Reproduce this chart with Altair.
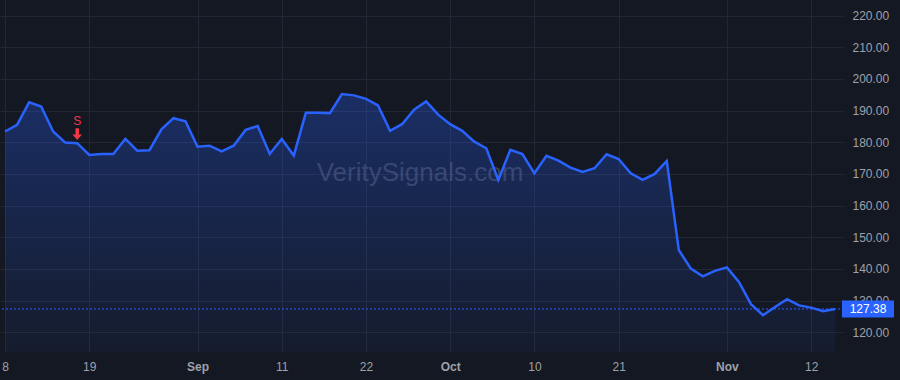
import altair as alt
import pandas as pd

# ---- data (daily closes, trading days) ----
DATES = [
    "2025-08-08", "2025-08-11", "2025-08-12", "2025-08-13", "2025-08-14", "2025-08-15",
    "2025-08-18", "2025-08-19", "2025-08-20", "2025-08-21", "2025-08-22", "2025-08-25",
    "2025-08-26", "2025-08-27", "2025-08-28", "2025-08-29", "2025-09-02", "2025-09-03",
    "2025-09-04", "2025-09-05", "2025-09-08", "2025-09-09", "2025-09-10", "2025-09-11",
    "2025-09-12", "2025-09-15", "2025-09-16", "2025-09-17", "2025-09-18", "2025-09-19",
    "2025-09-22", "2025-09-23", "2025-09-24", "2025-09-25", "2025-09-26", "2025-09-29",
    "2025-09-30", "2025-10-01", "2025-10-02", "2025-10-03", "2025-10-06", "2025-10-07",
    "2025-10-08", "2025-10-09", "2025-10-10", "2025-10-13", "2025-10-14", "2025-10-15",
    "2025-10-16", "2025-10-17", "2025-10-20", "2025-10-21", "2025-10-22", "2025-10-23",
    "2025-10-24", "2025-10-27", "2025-10-28", "2025-10-29", "2025-10-30", "2025-10-31",
    "2025-11-03", "2025-11-04", "2025-11-05", "2025-11-06", "2025-11-07", "2025-11-10",
    "2025-11-11", "2025-11-12", "2025-11-13", "2025-11-14",
]
CLOSE = [
    183.4, 185.5, 192.6, 191.3, 183.4, 179.9,
    179.7, 176.0, 176.3, 176.3, 181.1, 177.3,
    177.5, 184.1, 187.6, 186.6, 178.6, 178.9,
    177.1, 178.9, 183.9, 185.1, 176.3, 181.0,
    175.8, 189.3, 189.3, 189.2, 195.2, 194.8,
    193.7, 191.6, 183.6, 185.7, 190.3, 192.9,
    188.7, 185.7, 183.6, 180.2, 178.1, 168.1,
    177.6, 176.3, 170.2, 175.7, 174.2, 172.0,
    170.6, 171.8, 176.2, 174.7, 170.2, 168.1,
    170.0, 174.1, 146.0, 140.1, 137.7, 139.4,
    140.5, 135.9, 128.9, 125.4, 128.0, 130.5,
    128.5, 127.8, 126.7, 127.38,
]
TICK_INDEX = [0, 7, 16, 23, 30, 37, 44, 51, 60, 67]
TICK_LABELS = ["8", "19", "Sep", "11", "22", "Oct", "10", "21", "Nov", "12"]
MONTH_TICKS = [16, 37, 60]
Y_TICKS = [120, 130, 140, 150, 160, 170, 180, 190, 200, 210, 220]
SIGNAL_INDEX = [6]
SIGNAL_TEXT = ["S"]
LAST_PRICE = 127.38
WATERMARK = "VeritySignals.com"

# ---- styling ----
BG = "#141822"
GRID = "#232734"
BLUE = "#2962ff"
RED = "#f23645"
AXIS_TXT = "#9ea1aa"
FONT = "Liberation Sans"
X_DOMAIN = [-0.42, 69.4]
Y_DOMAIN = [113.8, 224.9]

df = pd.DataFrame({"i": list(range(len(CLOSE))), "date": DATES, "close": CLOSE})
sig_df = pd.DataFrame({"i": SIGNAL_INDEX, "close": [CLOSE[k] for k in SIGNAL_INDEX], "txt": SIGNAL_TEXT})
last_df = pd.DataFrame({"close": [LAST_PRICE]})
wm_df = pd.DataFrame({"t": [WATERMARK]})

label_expr = "[{}][indexof([{}], datum.value)]".format(
    ",".join("'" + s + "'" for s in TICK_LABELS), ",".join(str(v) for v in TICK_INDEX)
)
bold_test = " || ".join("datum.value == {}".format(v) for v in MONTH_TICKS)

xscale = alt.Scale(domain=X_DOMAIN, nice=False, zero=False)
yscale = alt.Scale(domain=Y_DOMAIN, nice=False, zero=False)

x_axis = alt.Axis(
    values=TICK_INDEX, labelExpr=label_expr, grid=True, gridColor=GRID, gridWidth=1,
    ticks=False, domain=False, title=None, labelColor=AXIS_TXT, labelFontSize=12,
    labelFont=FONT, labelPadding=9, labelFlush=False, labelOverlap=False, labelBound=False,
    labelFontWeight={"condition": {"test": bold_test, "value": "bold"}, "value": "normal"},
    zindex=0,
)
y_axis = alt.Axis(
    orient="right", values=Y_TICKS, format=".2f", grid=True, gridColor=GRID, gridWidth=1,
    ticks=True, tickColor=GRID, tickSize=4, domain=False, title=None, labelColor=AXIS_TXT,
    labelFontSize=12, labelFont=FONT, labelPadding=8, labelOverlap=False, zindex=0,
)

X = alt.X("i:Q", scale=xscale, axis=x_axis, title=None)
Y = alt.Y("close:Q", scale=yscale, axis=y_axis, title=None)

gradient = alt.Gradient(
    gradient="linear",
    stops=[
        alt.GradientStop(color="rgba(41,98,255,0.05)", offset=0),
        alt.GradientStop(color="rgba(41,98,255,0.30)", offset=1),
    ],
    x1=1, x2=1, y1=1, y2=0,
)

watermark = alt.Chart(wm_df).mark_text(
    font=FONT, fontSize=26, color="#787b86", opacity=0.4, align="center", baseline="middle"
).encode(x=alt.value(420), y=alt.value(173), text="t:N")

area = alt.Chart(df).mark_area(color=gradient, interpolate="linear").encode(
    x=X, y=Y, y2=alt.datum(Y_DOMAIN[0])
)
line = alt.Chart(df).mark_line(color=BLUE, strokeWidth=2.5).encode(x=X, y=Y)

price_rule = alt.Chart(last_df).mark_rule(color=BLUE, strokeDash=[2, 2], strokeWidth=1).encode(y=Y)

ARROW = "M-0.3,-1 L0.3,-1 L0.3,0.05 L0.8,0.05 L0,1 L-0.8,0.05 L-0.3,0.05 Z"
arrow = alt.Chart(sig_df).mark_point(
    shape=ARROW, filled=True, size=140, color=RED, opacity=1, yOffset=-9
).encode(x=X, y=Y)
sig_text = alt.Chart(sig_df).mark_text(
    font=FONT, fontSize=12, color=RED, yOffset=-22
).encode(x=X, y=Y, text="txt:N")

BOX = "M-1,-0.327 L1,-0.327 L1,0.327 L-1,0.327 Z"
price_box = alt.Chart(last_df).mark_point(
    shape=BOX, filled=True, size=2704, color=BLUE, opacity=1
).encode(x=alt.value(868), y=Y)
price_txt = alt.Chart(last_df).mark_text(
    font=FONT, fontSize=12, color="#ffffff", align="center", baseline="middle"
).encode(x=alt.value(868), y=Y, text=alt.Text("close:Q", format=".2f"))

chart = alt.layer(
    watermark, area, line, price_rule, arrow, sig_text, price_box, price_txt
).properties(
    width=840, height=352,
    autosize=alt.AutoSizeParams(type="none"),
    padding={"left": 0, "top": 0, "right": 60, "bottom": 28},
    background=BG,
).configure_view(stroke=None)

chart.save("out.html", embed_options={"renderer": "svg", "actions": False})
